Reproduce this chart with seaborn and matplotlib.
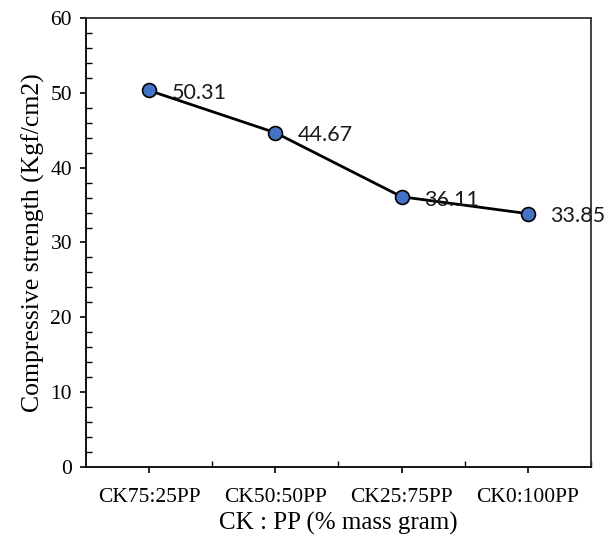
import matplotlib
matplotlib.use("Agg")
import matplotlib.pyplot as plt
from matplotlib.ticker import MultipleLocator, FixedLocator
import seaborn as sns
import pandas as pd

categories = ["CK75:25PP", "CK50:50PP", "CK25:75PP", "CK0:100PP"]
strength = [50.31, 44.67, 36.11, 33.85]
y_label = "Compressive strength (Kgf/cm2)"
x_label = "CK : PP (% mass gram)"

df = pd.DataFrame({"mix": categories, "strength": strength})

sns.set_theme(style="white")
plt.rcParams["font.family"] = ["Liberation Serif", "DejaVu Serif"]

fig = plt.figure(figsize=(6.05, 5.4), dpi=100)
ax = fig.add_axes([0.1421, 0.1352, 0.9769 - 0.1421, 0.9667 - 0.1352])

sns.lineplot(data=df, x="mix", y="strength", sort=False, ax=ax,
             color="black", linewidth=2.0, marker="o", markersize=10,
             markerfacecolor="#4472C4", markeredgecolor="black",
             markeredgewidth=1.2)

for i, v in enumerate(strength):
    ax.annotate(f"{v:.2f}", (i, v), xytext=(16, -2), textcoords="offset points",
                ha="left", va="center", fontsize=15.5, family="Lato", color="#1a1a1a")

ax.set_xlim(-0.5, 3.5)
ax.set_ylim(0, 60)
ax.yaxis.set_major_locator(MultipleLocator(10))
ax.yaxis.set_minor_locator(MultipleLocator(2))
ax.xaxis.set_major_locator(FixedLocator([0, 1, 2, 3]))
ax.xaxis.set_minor_locator(FixedLocator([0.5, 1.5, 2.5, 3.5]))
ax.set_xticks([0, 1, 2, 3])
ax.set_xticklabels(categories)

ax.tick_params(axis="both", which="major", direction="out", length=4, width=1.2,
               color="black", labelsize=15.5, labelcolor="black", pad=6,
               left=True, bottom=True)
ax.tick_params(axis="both", which="minor", direction="in", length=4, width=1.0,
               color="black", left=True, bottom=True)
ax.tick_params(axis="x", which="major", pad=11)

for s in ax.spines.values():
    s.set_color("black")
    s.set_linewidth(1.3)
for s in ("top", "right"):
    ax.spines[s].set_color("#333333")

ax.set_xlabel(x_label, fontsize=18, color="black", labelpad=4)
ax.set_ylabel(y_label, fontsize=18.5, color="black")
ax.yaxis.set_label_coords(-0.082, 0.5)
ax.grid(False)

fig.savefig("out.png", dpi=100, facecolor="white")
